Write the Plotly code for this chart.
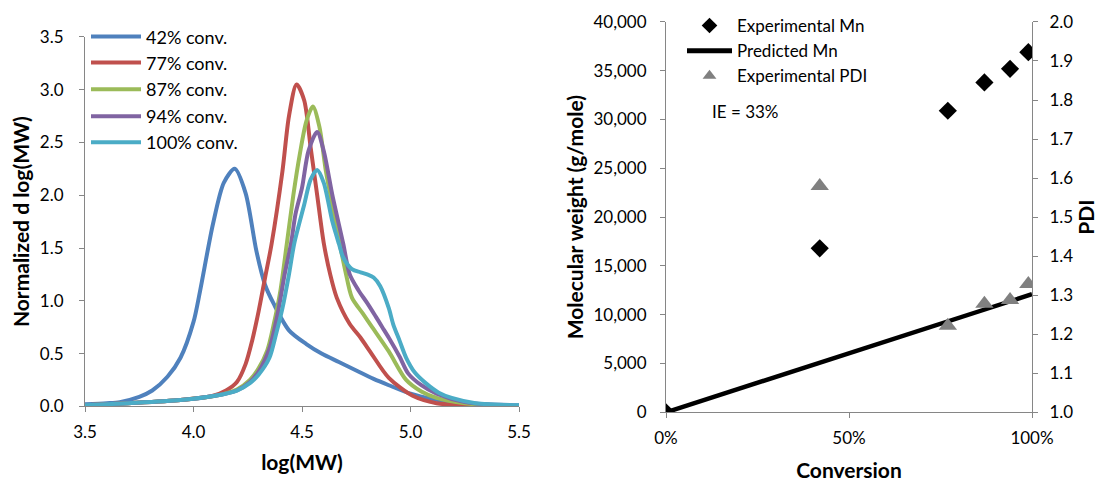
import plotly.graph_objects as go

# ---------------- Left chart: GPC traces ----------------
labels = ["42% conv.", "77% conv.", "87% conv.", "94% conv.", "100% conv."]
colors = ["#4F81BD", "#C0504D", "#9BBB59", "#8064A2", "#4BACC6"]

x42 = [3.50, 3.60, 3.66, 3.75, 3.81, 3.88, 3.94, 4.00, 4.03, 4.09, 4.14, 4.19, 4.24, 4.29, 4.33, 4.37,
       4.44, 4.52, 4.59, 4.67, 4.75, 4.83, 4.90, 5.00, 5.10, 5.20, 5.35, 5.50]
y42 = [0.02, 0.03, 0.04, 0.09, 0.15, 0.28, 0.46, 0.80, 1.09, 1.73, 2.12, 2.25, 2.02, 1.47, 1.15, 0.97,
       0.72, 0.59, 0.50, 0.42, 0.34, 0.26, 0.20, 0.12, 0.07, 0.04, 0.02, 0.01]

x77 = [3.50, 3.70, 3.94, 4.09, 4.15, 4.20, 4.24, 4.27, 4.30, 4.33, 4.36, 4.41, 4.44, 4.475, 4.51, 4.54,
       4.57, 4.60, 4.63, 4.66, 4.72, 4.77, 4.82, 4.90, 5.01, 5.12, 5.25, 5.50]
y77 = [0.01, 0.03, 0.06, 0.10, 0.15, 0.23, 0.40, 0.62, 0.90, 1.22, 1.54, 2.23, 2.75, 3.05, 2.90, 2.45,
       2.00, 1.55, 1.25, 1.03, 0.78, 0.65, 0.50, 0.27, 0.10, 0.03, 0.01, 0.00]

x87 = [3.50, 3.70, 3.94, 4.10, 4.20, 4.26, 4.30, 4.34, 4.37, 4.40, 4.43, 4.46, 4.49, 4.52, 4.55, 4.58,
       4.61, 4.64, 4.67, 4.70, 4.73, 4.78, 4.82, 4.90, 4.98, 5.05, 5.12, 5.25, 5.50]
y87 = [0.01, 0.03, 0.06, 0.10, 0.16, 0.25, 0.36, 0.53, 0.78, 1.09, 1.54, 2.00, 2.39, 2.70, 2.84, 2.65,
       2.23, 1.90, 1.58, 1.28, 1.03, 0.88, 0.76, 0.52, 0.25, 0.14, 0.08, 0.03, 0.00]

x94 = [3.50, 3.70, 3.94, 4.10, 4.20, 4.26, 4.30, 4.35, 4.39, 4.42, 4.45, 4.47, 4.50, 4.53, 4.57, 4.60,
       4.64, 4.69, 4.72, 4.76, 4.80, 4.84, 4.87, 4.90, 4.95, 4.99, 5.05, 5.12, 5.25, 5.50]
y94 = [0.01, 0.03, 0.06, 0.10, 0.15, 0.23, 0.33, 0.55, 0.90, 1.25, 1.55, 1.82, 2.07, 2.42, 2.60, 2.42,
       2.00, 1.54, 1.25, 1.10, 0.98, 0.85, 0.75, 0.65, 0.47, 0.31, 0.20, 0.12, 0.04, 0.00]

x100 = [3.50, 3.70, 3.94, 4.10, 4.20, 4.26, 4.30, 4.35, 4.38, 4.41, 4.44, 4.465, 4.51, 4.54, 4.57, 4.60,
        4.64, 4.67, 4.69, 4.73, 4.77, 4.80, 4.83, 4.86, 4.90, 4.92, 4.95, 4.98, 5.02, 5.07, 5.13, 5.19,
        5.30, 5.50]
y100 = [0.01, 0.03, 0.06, 0.10, 0.15, 0.22, 0.30, 0.46, 0.68, 0.93, 1.25, 1.55, 1.91, 2.15, 2.24, 2.12,
        1.75, 1.54, 1.41, 1.30, 1.27, 1.25, 1.22, 1.14, 0.93, 0.78, 0.62, 0.46, 0.32, 0.22, 0.13, 0.08,
        0.03, 0.01]

gpc_x = [x42, x77, x87, x94, x100]
gpc_y = [y42, y77, y87, y94, y100]

# ---------------- Right chart: Mn and PDI vs conversion ----------------
conv_exp = [0.0, 0.42, 0.77, 0.87, 0.94, 0.99]
mn_exp = [0, 16800, 30900, 33800, 35200, 36900]
conv_pred = [0.0, 1.0]
mn_pred = [0, 12100]
conv_pdi = [0.42, 0.77, 0.87, 0.94, 0.99]
pdi_exp = [1.58, 1.222, 1.278, 1.288, 1.329]

FONT = "Lato, 'Open Sans', sans-serif"
W, H = 1107, 482
OFF = 8  # page body margin
AX = "#868686"


def fx(px):
    return (px - OFF) / W


def fy(py):
    return 1 - (py - OFF) / H


fig = go.Figure()

legend_rows = [35, 61, 88, 115, 141]
for i in range(5):
    fig.add_trace(go.Scatter(
        x=gpc_x[i], y=gpc_y[i], mode="lines", name=labels[i],
        line=dict(color=colors[i], width=4, shape="spline", smoothing=0.8),
        xaxis="x", yaxis="y", legend="legend" if i == 0 else f"legend{i+1}",
        showlegend=True,
    ))

fig.add_trace(go.Scatter(
    x=conv_exp, y=mn_exp, mode="markers", name="Experimental Mn",
    marker=dict(symbol="diamond", size=14, color="black"),
    xaxis="x2", yaxis="y2", legend="legend6", showlegend=True))
fig.add_trace(go.Scatter(
    x=conv_pred, y=mn_pred, mode="lines", name="Predicted Mn",
    line=dict(color="black", width=4.5),
    xaxis="x2", yaxis="y2", legend="legend6", showlegend=True))
fig.add_trace(go.Scatter(
    x=conv_pdi, y=pdi_exp, mode="markers", name="Experimental PDI",
    marker=dict(symbol="triangle-up", size=16, color="#808080"),
    xaxis="x2", yaxis="y3", legend="legend6", showlegend=True))

axis_common = dict(showgrid=False, zeroline=False, showline=True, linecolor=AX, linewidth=1,
                   automargin=False,
                   ticks="outside", tickcolor=AX, ticklen=5, tickfont=dict(family=FONT, size=17, color="black"))
title_font = dict(family=FONT, size=21, color="black", weight="bold")

legend_common = dict(font=dict(family=FONT, size=18, color="black"), bgcolor="rgba(0,0,0,0)",
                     borderwidth=0, xanchor="left", yanchor="middle", itemwidth=50,
                     tracegroupgap=0, visible=True)

layout_legends = {}
for i, row in enumerate(legend_rows):
    key = "legend" if i == 0 else f"legend{i+1}"
    layout_legends[key] = dict(legend_common, x=fx(86), y=fy(row))
layout_legends["legend6"] = dict(legend_common, x=fx(682), y=fy(49), itemwidth=45,
                                 itemsizing="constant", font=dict(family=FONT, size=17, color="black"))

fig.update_layout(
    width=W, height=H, margin=dict(l=0, r=0, t=0, b=0),
    paper_bgcolor="white", plot_bgcolor="white", showlegend=True,
    font=dict(family=FONT, size=17, color="black"),
    xaxis=dict(axis_common, domain=[fx(85), fx(519)], range=[3.5, 5.5], dtick=0.5, tickformat=".1f",
               anchor="y", ticklabelstandoff=5,
               title=dict(text="log(MW)", font=title_font, standoff=14)),
    yaxis=dict(axis_common, domain=[fy(406), fy(35)], range=[0, 3.5], dtick=0.5, tickformat=".1f",
               anchor="x", ticklabelstandoff=12,
               title=dict(text="Normalized d log(MW)", font=title_font, standoff=8)),
    xaxis2=dict(axis_common, domain=[fx(666), fx(1032)], range=[0, 1], tickvals=[0, 0.5, 1],
                tickformat=".0%", anchor="y2", ticklabelstandoff=5,
                title=dict(text="Conversion", font=title_font, standoff=16)),
    yaxis2=dict(axis_common, domain=[fy(412), fy(20)], range=[0, 40000], dtick=5000,
                tickformat=",d", anchor="x2", ticklabelstandoff=10,
                title=dict(text="Molecular weight (g/mole)", font=title_font, standoff=4)),
    yaxis3=dict(axis_common, domain=[fy(412), fy(20)], range=[1, 2], dtick=0.1, tickformat=".1f",
                anchor="x2", overlaying="y2", side="right", ticklabelstandoff=8,
                title=dict(text="PDI", font=title_font, standoff=7)),
    annotations=[dict(text="IE = 33%", x=fx(710), y=fy(110), xref="paper", yref="paper",
                      xanchor="left", yanchor="middle", showarrow=False,
                      font=dict(family=FONT, size=17, color="black"))],
    **layout_legends,
)

fig.write_html("out.html")
